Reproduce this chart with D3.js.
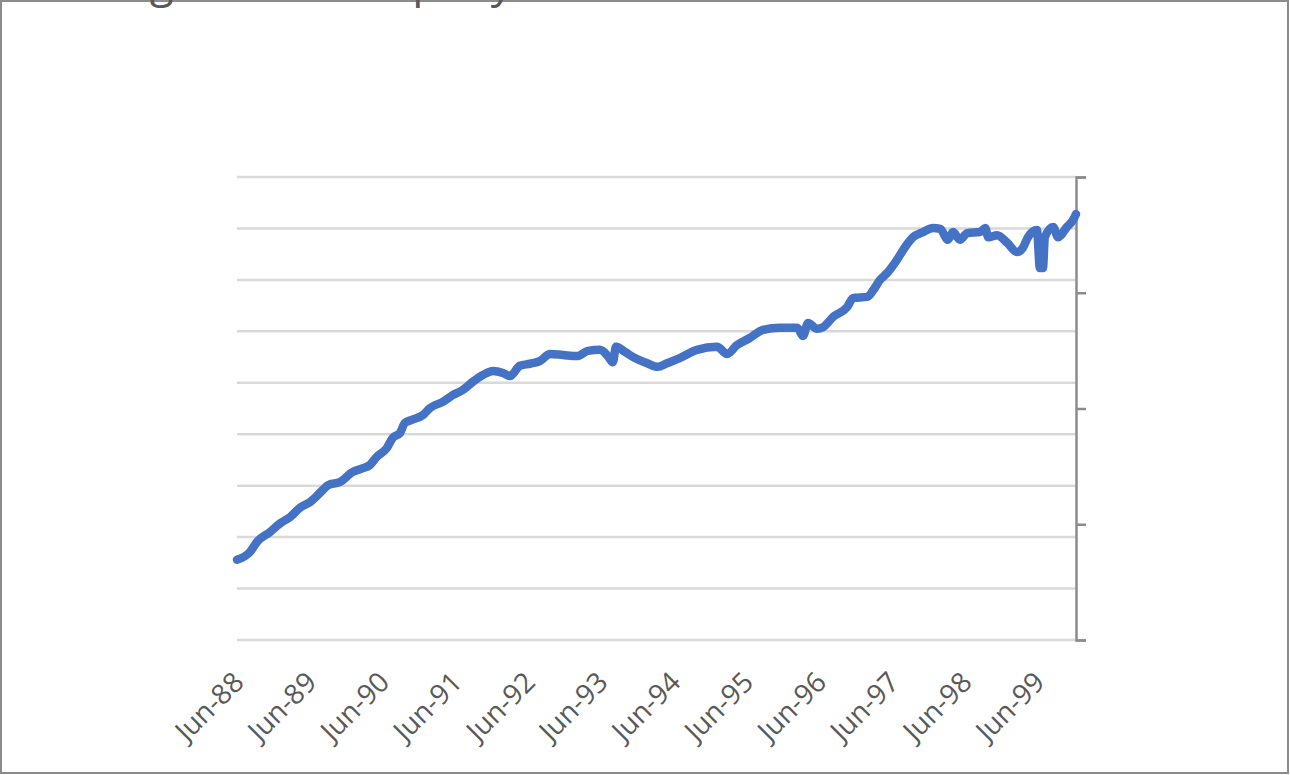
<!DOCTYPE html>
<html>
<head>
<meta charset="utf-8">
<script src="https://cdn.jsdelivr.net/npm/d3@7"></script>
<style>
  body { margin: 0; background: #fff; }
  text { font-family: "Open Sans", "Noto Sans", sans-serif; }
</style>
</head>
<body>
<svg id="chart" width="1290" height="775"></svg>
<script>
// series (approximate)
const dates = [
  "1988-06-01", "1988-08-05", "1988-09-10", "1988-11-14", "1989-01-04", "1989-02-23",
  "1989-04-12", "1989-06-02", "1989-07-22", "1989-09-01", "1989-10-30", "1990-01-04",
  "1990-02-23", "1990-03-29", "1990-05-03", "1990-06-22", "1990-07-22", "1990-08-27",
  "1990-09-21", "1990-10-26", "1990-12-20", "1991-01-25", "1991-03-30", "1991-05-19",
  "1991-07-08", "1991-08-28", "1991-10-17", "1991-12-07", "1992-01-26", "1992-03-01",
  "1992-04-20", "1992-06-10", "1992-07-29", "1992-09-18", "1992-11-22", "1993-02-01",
  "1993-03-27", "1993-05-26", "1993-07-05", "1993-07-30", "1993-08-15", "1993-09-29",
  "1993-11-18", "1994-01-18", "1994-03-12", "1994-04-27", "1994-07-01", "1994-09-25",
  "1995-01-04", "1995-02-23", "1995-04-13", "1995-06-17", "1995-08-22", "1995-11-16",
  "1996-02-10", "1996-03-10", "1996-04-04", "1996-05-19", "1996-06-18", "1996-08-08",
  "1996-10-17", "1996-11-17", "1997-01-26", "1997-02-25", "1997-03-31", "1997-05-05",
  "1997-06-24", "1997-08-04", "1997-09-13", "1997-11-02", "1997-12-22", "1998-01-27",
  "1998-03-07", "1998-04-01", "1998-05-06", "1998-06-11", "1998-08-15", "1998-09-10",
  "1998-09-25", "1998-11-09", "1998-12-29", "1999-02-17", "1999-03-17", "1999-04-12",
  "1999-05-27", "1999-06-11", "1999-06-26", "1999-07-06", "1999-08-16", "1999-09-10",
  "1999-10-25", "1999-11-24", "1999-12-09"
];
const values = [
  156, 171, 191, 210, 227, 239,
  257, 268, 286, 301, 307, 327,
  334, 340, 356, 373, 393, 402,
  422, 428, 437, 451, 463, 476,
  486, 502, 515, 523, 519, 513,
  533, 537, 542, 556, 554, 552,
  562, 564, 552, 540, 570, 560,
  548, 538, 531, 538, 548, 564,
  570, 556, 573, 587, 603, 607,
  607, 591, 616, 605, 608, 628,
  647, 665, 667, 680, 700, 713,
  739, 764, 783, 793, 801, 799,
  778, 793, 778, 791, 793, 801,
  783, 787, 772, 754, 762, 783,
  797, 723, 723, 783, 803, 783,
  803, 816, 828
];
const yearTicks = ["1988-06-01", "1989-06-01", "1990-06-01", "1991-06-01", "1992-06-01", "1993-06-01",
  "1994-06-01", "1995-06-01", "1996-06-01", "1997-06-01", "1998-06-01", "1999-06-01"];
const gridValues = d3.range(0, 901, 100);
const rightTicks = [0, 1, 2, 3, 4];
const chartTitle = "Lending to the Company";

const margin = { top: 177, right: 214, bottom: 135, left: 237 };
const W = 1290, H = 775;
const width = W - margin.left - margin.right;
const height = H - margin.top - margin.bottom;

const parse = d3.timeParse("%Y-%m-%d");
const fmt = d3.timeFormat("%b-%y");
const data = dates.map((d, i) => ({ date: parse(d), value: values[i] }));

const svg = d3.select("#chart");

// chart frame
svg.append("rect")
  .attr("x", 1).attr("y", 1)
  .attr("width", W - 3).attr("height", H - 3)
  .attr("fill", "none").attr("stroke", "#8c8c8c").attr("stroke-width", 2);

// title sits above the visible frame, only its descenders show
svg.append("text")
  .attr("x", 10).attr("y", -3)
  .attr("font-size", 44)
  .attr("fill", "#595959")
  .text(chartTitle);

const g = svg.append("g").attr("class", "chart")
  .attr("transform", `translate(${margin.left},${margin.top})`);

const xScale = d3.scaleTime()
  .domain([data[0].date, data[data.length - 1].date])
  .range([0, width]);
const yScale = d3.scaleLinear().domain([0, 900]).range([height, 0]);
const y2Scale = d3.scaleLinear().domain([0, 4]).range([height, 0]);

// horizontal gridlines
g.append("g").attr("class", "grid")
  .selectAll("line")
  .data(gridValues)
  .join("line")
  .attr("x1", 0).attr("x2", width)
  .attr("y1", d => yScale(d)).attr("y2", d => yScale(d))
  .attr("stroke", "#d9d9d9").attr("stroke-width", 2.5);

// secondary axis on the right, labels hidden
const rightAxis = g.append("g")
  .attr("transform", `translate(${width},0)`)
  .call(d3.axisRight(y2Scale).tickValues(rightTicks).tickSize(10).tickFormat(""));
rightAxis.select(".domain").attr("stroke", "#8c8c8c").attr("stroke-width", 2.5);
rightAxis.selectAll(".tick line").attr("stroke", "#8c8c8c").attr("stroke-width", 2.5);

// x labels, rotated
const xAxis = g.append("g")
  .attr("transform", `translate(0,${height})`)
  .call(d3.axisBottom(xScale).tickValues(yearTicks.map(parse)).tickSize(0).tickFormat(fmt));
xAxis.select(".domain").remove();
xAxis.selectAll(".tick text")
  .attr("font-size", 28)
  .attr("fill", "#595959")
  .attr("text-anchor", "end")
  .attr("dy", 0)
  .attr("y", 0)
  .attr("transform", "translate(8,44) rotate(-45)");

// the series
const line = d3.line()
  .x(d => xScale(d.date))
  .y(d => yScale(d.value))
  .curve(d3.curveMonotoneX);

g.append("path")
  .datum(data)
  .attr("fill", "none")
  .attr("stroke", "#4472c4")
  .attr("stroke-width", 8.5)
  .attr("stroke-linejoin", "round")
  .attr("stroke-linecap", "round")
  .attr("d", line);
</script>
</body>
</html>
